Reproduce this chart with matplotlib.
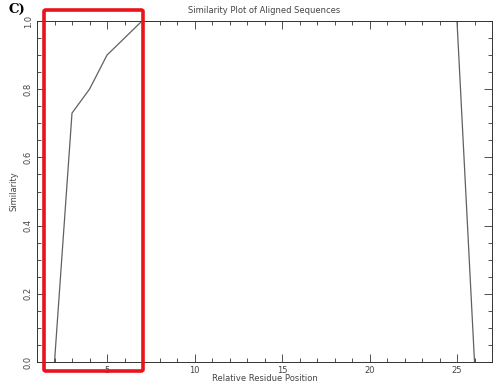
import matplotlib
matplotlib.use("Agg")
import matplotlib.pyplot as plt
from matplotlib.patches import FancyBboxPatch
from matplotlib.ticker import MultipleLocator

# data
positions = [2, 3, 4, 5, 6, 7, 8, 9, 10, 11, 12, 13, 14, 15, 16, 17, 18, 19,
             20, 21, 22, 23, 24, 25, 26]
similarity = [0.0, 0.73, 0.80, 0.90, 0.95, 1.0, 1.0, 1.0, 1.0, 1.0, 1.0, 1.0,
              1.0, 1.0, 1.0, 1.0, 1.0, 1.0, 1.0, 1.0, 1.0, 1.0, 1.0, 1.0, 0.0]
x_ticks = [5, 10, 15, 20, 25]
y_ticks = [0.0, 0.2, 0.4, 0.6, 0.8, 1.0]

W, H = 494, 388
fig = plt.figure(figsize=(W / 100, H / 100), dpi=100)
ax = fig.add_axes([37 / W, 1 - 362 / H, (492 - 37) / W, (362 - 21) / H])

ax.plot(positions, similarity, color="#606060", lw=0.9)
ax.set_xlim(1, 27)
ax.set_ylim(0, 1)

ax.set_xticks(x_ticks)
ax.set_yticks(y_ticks)
ax.set_yticklabels(["%.1f" % v for v in y_ticks], rotation=90, va="center")
ax.xaxis.set_minor_locator(MultipleLocator(1))
ax.yaxis.set_minor_locator(MultipleLocator(0.05))
ax.tick_params(which="both", direction="in", top=True, right=True,
               labelsize=6, color="#333333", labelcolor="#444444", width=0.6)
ax.tick_params(which="major", length=6, pad=3)
ax.tick_params(which="minor", length=3)
for s in ax.spines.values():
    s.set_linewidth(0.7)
    s.set_color("#333333")

ax.set_title("Similarity Plot of Aligned Sequences", fontsize=6, color="#444444", pad=6)
ax.set_xlabel("Relative Residue Position", fontsize=6, color="#444444", labelpad=-1)
ax.set_ylabel("Similarity", fontsize=6, color="#444444", labelpad=4)

fig.text(8 / W, 1 - 9 / H, "C)", family="DejaVu Serif", fontsize=9.5,
         fontweight="bold", va="center", ha="left")

# red highlight box
box = FancyBboxPatch((44 / W, 1 - 371 / H), (143 - 44) / W, (371 - 10) / H,
                     boxstyle="round,pad=0,rounding_size=0.004",
                     transform=fig.transFigure, fill=False,
                     edgecolor="#e8141a", lw=2.6, zorder=10)
fig.patches.append(box)

fig.savefig("out.png", dpi=100)
